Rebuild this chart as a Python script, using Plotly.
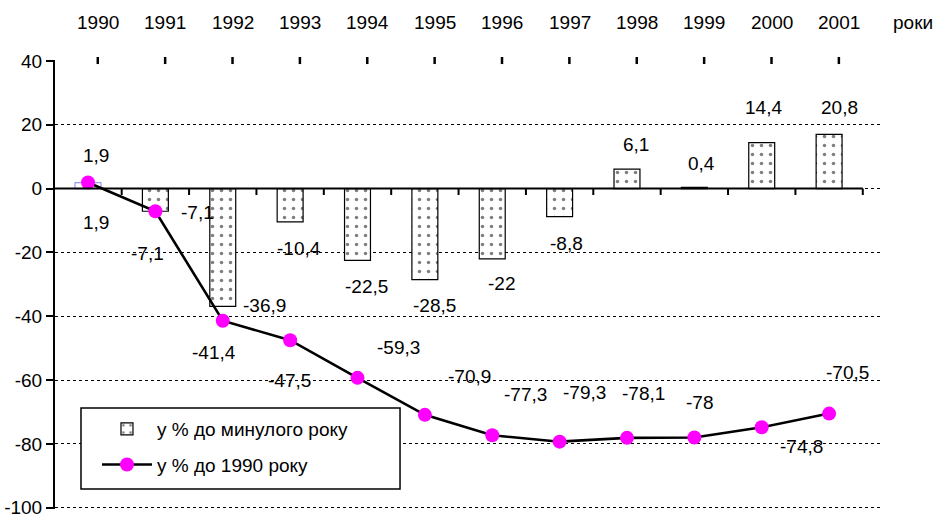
import plotly.graph_objects as go

years = ["1990", "1991", "1992", "1993", "1994", "1995", "1996", "1997", "1998", "1999", "2000", "2001"]
prev_year_pct = [1.9, -7.1, -36.9, -10.4, -22.5, -28.5, -22.0, -8.8, 6.1, 0.4, 14.4, 17.0]
prev_year_labels = ["1,9", "-7,1", "-36,9", "-10,4", "-22,5", "-28,5", "-22", "-8,8", "6,1", "0,4", "14,4", "20,8"]
vs_1990_pct = [1.9, -7.1, -41.4, -47.5, -59.3, -70.9, -77.3, -79.3, -78.1, -78.0, -74.8, -70.5]
vs_1990_labels = ["1,9", "-7,1", "-41,4", "-47,5", "-59,3", "-70,9", "-77,3", "-79,3", "-78,1", "-78", "-74,8", "-70,5"]
y_ticks = [40, 20, 0, -20, -40, -60, -80, -100]
series_names = ["у % до минулого року", "у % до 1990 року"]
axis_title = "роки"

# label offsets (pixels) – layout only
bar_lbl_dx = [8, -8, 42, 9, 9, 10, 9, 7, 9, 7, 2, 10]
bar_lbl_dy = [27, -42, 1, -27, -26, -26, -25, -27, 25, 24, 35, 27]
line_lbl_dx = [8, 42, -9, -1, 41, 45, 33, 25, 17, 5, 40, 18]
line_lbl_dy = [-40, -1, -32, -40, 30, 38, 41, 49, 44, 35, -19, 41]

FONT = "Liberation Sans, Arial, sans-serif"
FS = 19
idx = list(range(len(years)))

fig = go.Figure()
bar_line_colors = ["#9999ff"] + ["black"] * (len(years) - 1)
bar_fg = ["#6666ff"] + ["black"] * (len(years) - 1)
pattern_black = dict(shape=".", fgcolor="black", bgcolor="white", size=9, solidity=0.12)
fig.add_trace(go.Bar(
    x=idx, y=prev_year_pct, name=series_names[0], width=0.385, showlegend=False,
    marker=dict(color="white", line=dict(color=bar_line_colors, width=1.2),
                pattern=dict(shape=".", fgcolor=bar_fg, bgcolor="white", size=9, solidity=0.12)),
))
# legend entry for the bar series (uniform black style)
fig.add_trace(go.Bar(
    x=[None], y=[None], name=series_names[0], legendgroup="a",
    marker=dict(color="white", line=dict(color="black", width=1.2), pattern=pattern_black),
))
fig.add_trace(go.Scatter(
    x=idx, y=vs_1990_pct, name=series_names[1], mode="lines+markers", legendgroup="b",
    line=dict(color="black", width=2.6),
    marker=dict(color="#ff00ff", size=14, line=dict(width=0)),
))

ann = []
for i in idx:
    ann.append(dict(x=i, y=prev_year_pct[i], xref="x", yref="y", text=prev_year_labels[i],
                    showarrow=False, xshift=bar_lbl_dx[i], yshift=bar_lbl_dy[i],
                    xanchor="center", yanchor="middle",
                    font=dict(family=FONT, size=FS, color="black")))
    ann.append(dict(x=i, y=vs_1990_pct[i], xref="x", yref="y", text=vs_1990_labels[i],
                    showarrow=False, xshift=line_lbl_dx[i], yshift=line_lbl_dy[i],
                    xanchor="center", yanchor="middle",
                    font=dict(family=FONT, size=FS, color="black")))
    ann.append(dict(x=i, y=1.0846, xref="x", yref="paper", text=years[i], showarrow=False,
                    xshift=10, xanchor="center", yanchor="middle",
                    font=dict(family=FONT, size=FS, color="black")))
ann.append(dict(x=1.036, y=1.0846, xref="paper", yref="paper", text=axis_title, showarrow=False,
                xanchor="center", yanchor="middle",
                font=dict(family=FONT, size=FS, color="black")))

shapes = []
shapes.append(dict(type="line", xref="x", yref="y", x0=-0.5, x1=len(years) - 0.5, y0=0, y1=0,
                   line=dict(color="black", width=2)))
for i in idx:
    shapes.append(dict(type="line", xref="x", yref="y", x0=i + 0.5, x1=i + 0.5, y0=0, y1=-2,
                       line=dict(color="black", width=2)))
    shapes.append(dict(type="line", xref="x", yref="paper", x0=i + 0.145, x1=i + 0.145,
                       y0=0.991, y1=1.0067, line=dict(color="black", width=2.5)))
# legend frame
shapes.append(dict(type="rect", xref="paper", yref="paper", x0=0.0314, x1=0.4167, y0=0.0445, y1=0.2249,
                   fillcolor="white", line=dict(color="black", width=1.5), layer="above"))

fig.update_layout(
    width=935, height=518,
    margin=dict(l=55, r=52, t=60, b=9, autoexpand=False),
    paper_bgcolor="white", plot_bgcolor="white",
    font=dict(family=FONT, size=FS, color="black"),
    showlegend=True,
    legend=dict(x=0.0507, y=0.2205, xanchor="left", yanchor="top",
                borderwidth=0, bgcolor="rgba(0,0,0,0)",
                font=dict(family=FONT, size=FS, color="black"),
                itemwidth=50, tracegroupgap=8, traceorder="grouped"),
    annotations=ann, shapes=shapes,
    bargap=0.6, barmode="overlay",
)
fig.update_xaxes(range=[-0.49, 11.8], showgrid=False, zeroline=False, showticklabels=False,
                 ticks="", showline=False, fixedrange=True, automargin=False)
fig.update_yaxes(range=[-100.4, 40.3], tickvals=y_ticks, ticktext=[str(v) for v in y_ticks],
                 showgrid=True, gridcolor="black", ticklabeloverflow="allow", automargin=False,
                 griddash="dot", gridwidth=1, zeroline=False, showline=True, linecolor="black",
                 linewidth=2, ticks="outside", ticklen=7, tickwidth=2, tickcolor="black",
                 tickfont=dict(family=FONT, size=FS, color="black"), fixedrange=True)

fig.write_html("out.html", config={"displayModeBar": False},
               post_script="document.body.style.margin='0';document.body.style.padding='0';")
